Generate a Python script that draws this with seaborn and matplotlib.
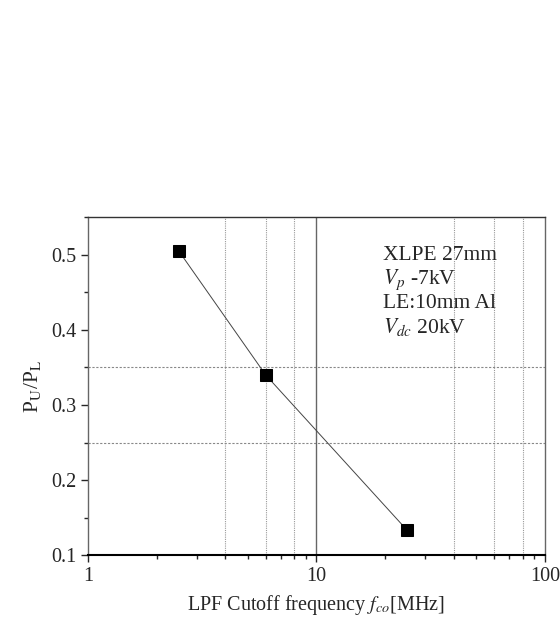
import pandas as pd
import seaborn as sns
import matplotlib.pyplot as plt
from matplotlib.ticker import LogLocator, NullFormatter, MultipleLocator

# data
cutoff_mhz = [2.5, 6.0, 25.0]
ratio = [0.505, 0.340, 0.133]
grid_x = [4, 6, 8, 40, 60, 80]
grid_y = [0.25, 0.35]
note_lines = ["XLPE 27mm", r"$V_p$ -7kV", "LE:10mm Al", r"$V_{dc}$ 20kV"]

df = pd.DataFrame({"f": cutoff_mhz, "r": ratio})

sns.set_style("ticks")
plt.rcParams['font.family'] = ['Liberation Serif', 'DejaVu Serif']
plt.rcParams['mathtext.fontset'] = 'stix'

fig = plt.figure(figsize=(5.6, 6.19), dpi=100)
ax = fig.add_axes([0.157, 0.103, 0.816, 0.546])

for gx in grid_x:
    ax.axvline(gx, color="#999999", lw=0.8, ls=(0, (1, 1)), zorder=0)
for gy in grid_y:
    ax.axhline(gy, color="#888888", lw=0.8, ls=(0, (2, 1.5)), zorder=0)
ax.axvline(10, color="#666666", lw=1.0, zorder=0)

sns.lineplot(data=df, x="f", y="r", ax=ax, color="#444444", lw=0.7,
             marker="s", markersize=8, markerfacecolor="black",
             markeredgecolor="black")

ax.set_xscale("log")
ax.set_xlim(1, 100)
ax.set_ylim(0.1, 0.55)
ax.set_xticks([1, 10, 100])
ax.set_xticklabels(["1", "10", "100"])
ax.xaxis.set_minor_locator(LogLocator(base=10, subs=range(2, 10)))
ax.xaxis.set_minor_formatter(NullFormatter())
ax.set_yticks([0.1, 0.2, 0.3, 0.4, 0.5])
ax.yaxis.set_minor_locator(MultipleLocator(0.05))
ax.tick_params(axis="both", which="major", labelsize=14.5, length=5, width=1, direction="out")
ax.tick_params(axis="both", which="minor", length=3, width=1, direction="out")

for side in ["top", "right", "left"]:
    ax.spines[side].set_visible(True)
    ax.spines[side].set_color("#666666")
    ax.spines[side].set_linewidth(1.0)
ax.spines["top"].set_color("#333333")
ax.spines["bottom"].set_color("black")
ax.spines["bottom"].set_linewidth(1.5)

ax.set_xlabel(r"LPF Cutoff frequency $f_{co}$[MHz]", fontsize=14.5, labelpad=5)
ax.set_ylabel(r"P$_{\rm U}$/P$_{\rm L}$", fontsize=15.5, labelpad=6)

ax.text(0.645, 0.915, "\n".join(note_lines), transform=ax.transAxes,
        fontsize=15.5, va="top", ha="left", linespacing=1.15)

plt.savefig("out.png", dpi=100)
